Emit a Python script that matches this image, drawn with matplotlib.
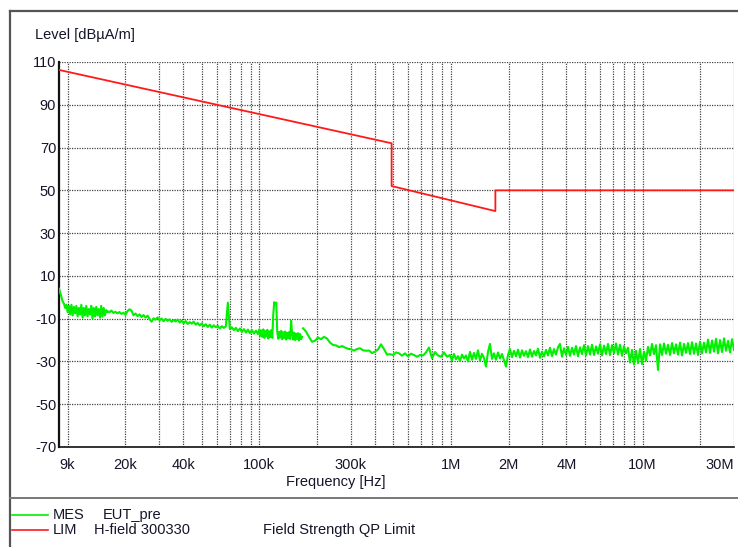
import numpy as np
import matplotlib
matplotlib.use('Agg')
import matplotlib.pyplot as plt
from matplotlib.lines import Line2D

plt.rcParams['font.family'] = ['Liberation Sans', 'DejaVu Sans']

W, H = 738, 547

# ---------------- data ----------------
# Limit line (H-field 300330, Field Strength QP Limit)
lim_freq = [9e3, 490e3, 490e3, 1.705e6, 1.705e6, 30e6]
lim_level = [106.3, 72.0, 52.0, 40.3, 50.0, 50.0]

seg_a_range = (9e3, 16.1e3)
seg_a = [4, 2, 0, -2, -3, -5, -3.5, -7, -4, -8, -3.5, -8.5, -4.5, -7.5, -4, -9,
         -5, -8, -3.5, -9.5, -5, -8.5, -4, -9, -5.5, -8, -4, -10, -5, -9, -4.5,
         -8.5, -5.5, -9.5, -4, -9, -5, -8.5, -6, -7]

seg_b_range = (16.1e3, 98.3e3)
seg_b = [-6.5, -7, -6.2, -7.3, -6.8, -7.5, -6.9, -7.8, -7.2, -8.2, -6.5, -5.6,
         -6.2, -8.4, -7.6, -8.8, -8.0, -9.2, -8.3, -9.5, -8.6, -10.2, -11.4, -9.8,
         -10.5, -9.4, -10.8, -9.9, -11.2, -10.1, -11.0, -10.3, -11.5, -10.6, -11.3,
         -10.4, -11.8, -10.9, -12.2, -11.1, -12.5, -11.6, -12.3, -11.4, -12.8, -12.0,
         -13.2, -12.2, -13.5, -12.6, -13.9, -12.8, -14.2, -13.1, -14.0, -13.3, -14.6,
         -13.5, -14.3, -13.6, -2.5, -14.8, -14.0, -15.4, -14.3, -15.8, -14.6, -16.2,
         -14.9, -16.5, -15.1, -16.8, -15.3, -17.0, -15.6, -17.2]

seg_c_range = (100e3, 167e3)
seg_c = [-15, -18, -15.5, -18.5, -15, -19, -15.8, -18.2, -15.2, -19.3, -16, -18.6,
         -15.4, -19, -8, -2.3, -3, -2.5, -16, -19.4, -16.2, -18.8, -15.7, -19.6,
         -16.4, -19, -16, -19.8, -16.6, -19.2, -16.2, -19.5, -11, -17, -19.8, -16.5,
         -20, -17, -19.5, -16.8, -20.2, -17.2, -19.6, -18.5]

seg_d1_range = (169e3, 988e3)
seg_d1 = [-14.5, -16.0, -18.6, -20.8, -20.3, -18.8, -19.6, -18.5, -19.3, -21.2,
          -22.3, -22.5, -23.3, -22.8, -23.5, -24.1, -24.3, -24.9, -24.2, -23.8,
          -24.8, -25.0, -24.9, -26.1, -25.4, -24.4, -22.0, -24.2, -26.8, -26.6,
          -27.0, -25.8, -26.2, -27.3, -26.2, -27.6, -26.4, -27.0, -27.8, -27.0,
          -27.2, -25.8, -23.5, -28.5, -25.6, -27.2, -27.8, -25.8, -27.8, -27.0]

seg_d2_range = (988e3, 30e6)
seg_d2 = [-27, -29.5, -26.5, -29, -27.5, -29.8, -26.8, -28.6, -27.2, -30,
          -25.5, -29.2, -26, -28.8, -24.8, -29.6, -26.4, -28.4, -32.4, -25.6,
          -21.8, -28.8, -26.2, -29.2, -25.8, -28.6, -26.5, -29.4, -32.4, -27,
          -24.2, -28, -25, -27.6, -24.5, -28.2, -24.8, -27.4, -25.2, -28,
          -24.4, -27.8, -25.1, -27.2, -24, -28.3, -25.4, -27.6, -24.6, -27.2,
          -23.6, -27.5, -24.2, -26.8, -23.4, -21.8, -27.8, -23.8, -27, -23.2,
          -27.4, -23.6, -26.8, -22.8, -27.6, -23.4, -26.6, -22.4, -27.2, -22.8,
          -26.8, -22.2, -27, -23, -26.4, -22, -27.2, -22.6, -26.6, -21.8,
          -27, -22.4, -26.2, -21.6, -26.8, -22.2, -27.4, -22.8, -26.2, -23.6,
          -30.5, -24.6, -31.5, -25, -30.8, -24.2, -31.2, -25.4, -29.6, -23.2,
          -27.2, -21.8, -26.6, -22.4, -34, -22, -27, -21.6, -26.4, -22.2,
          -27, -21.4, -26.2, -22, -26.8, -21.2, -27.2, -21.8, -26, -21.4,
          -26.6, -21, -26.4, -21.6, -27, -20.8, -26.2, -21.2, -25.8, -19.8,
          -26, -20.2, -25.4, -19.4, -26.2, -20, -25.6, -19.2, -25, -20.4,
          -25.8, -19.6, -24.6]

y_ticks = [110, 90, 70, 50, 30, 10, -10, -30, -50, -70]
x_ticks = [9e3, 20e3, 40e3, 100e3, 300e3, 1e6, 2e6, 4e6, 10e6, 30e6]
x_tick_labels = ['9k', '20k', '40k', '100k', '300k', '1M', '2M', '4M', '10M', '30M']

# ---------------- build the trace ----------------
def seg(rng, vals):
    return np.geomspace(rng[0], rng[1], len(vals)), np.array(vals, float)

fa, la = seg(seg_a_range, seg_a)
fb, lb = seg(seg_b_range, seg_b)
fc, lc = seg(seg_c_range, seg_c)
fd1, ld1 = seg(seg_d1_range, seg_d1)
fd2, ld2 = seg(seg_d2_range, seg_d2)
mes_f = np.concatenate([fa, fb, fc, [168e3], fd1, fd2])
mes_l = np.concatenate([la, lb, lc, [np.nan], ld1, ld2])

# ---------------- figure ----------------
fig = plt.figure(figsize=(W / 100, H / 100), dpi=100)
fig.patch.set_facecolor('white')

def fx(px):
    return px / W

def fy(py):
    return 1 - py / H

ax = fig.add_axes([fx(59), fy(447), fx(734) - fx(59), fy(62) - fy(447)])
ax.set_xscale('log')
ax.set_xlim(9e3, 30e6)
ax.set_ylim(-70, 110)

txt_col = '#15152a'

ax.set_yticks(y_ticks)
ax.set_yticklabels([str(v) for v in y_ticks], fontsize=10.5, color=txt_col)
ax.set_xticks(x_ticks)
ax.set_xticklabels(x_tick_labels, fontsize=10.5, color=txt_col)
ax.xaxis.set_minor_locator(plt.NullLocator())
ax.tick_params(axis='both', length=0)
ax.tick_params(axis='y', pad=2)
ax.tick_params(axis='x', pad=8)
labels = ax.get_xticklabels()
labels[0].set_horizontalalignment('left')
labels[-1].set_horizontalalignment('right')

# grid
grid_kw = dict(color='#444444', linestyle=(0, (1, 1)), linewidth=0.9, zorder=1)
for v in y_ticks:
    ax.axhline(v, **grid_kw)
vgrid = []
for dec in [1e4, 1e5, 1e6]:
    for m in range(1, 10):
        vgrid.append(dec * m)
vgrid += [1e7, 2e7, 3e7]
for v in vgrid:
    ax.axvline(v, **grid_kw)

for s in ['top', 'right']:
    ax.spines[s].set_visible(False)
ax.spines['left'].set_linewidth(1.6)
ax.spines['bottom'].set_linewidth(1.2)
ax.spines['left'].set_color('#111111')
ax.spines['bottom'].set_color('#111111')

# data
ax.plot(mes_f, mes_l, color='#00f000', linewidth=1.5, zorder=3)
ax.plot(lim_freq, lim_level, color='#ff1a1a', linewidth=1.3, zorder=4)

# axis titles
fig.text(fx(35), fy(35), 'Level [dBµA/m]', fontsize=10.5, color=txt_col,
         ha='left', va='center')
fig.text(fx(336), fy(482), 'Frequency [Hz]', fontsize=10.5, color=txt_col,
         ha='center', va='center')

# frame and separator
frame_col = '#555555'
fig.add_artist(Line2D([fx(10), fx(738)], [fy(11), fy(11)], color=frame_col, lw=1.6))
fig.add_artist(Line2D([fx(10), fx(10)], [fy(11), fy(547)], color=frame_col, lw=1.6))
fig.add_artist(Line2D([fx(10), fx(738)], [fy(497.5), fy(497.5)], color='#777777', lw=1.4))

# legend
fig.add_artist(Line2D([fx(12), fx(48)], [fy(515), fy(515)], color='#00f000', lw=1.2))
fig.add_artist(Line2D([fx(12), fx(48)], [fy(530), fy(530)], color='#ff1a1a', lw=1.2))
fig.text(fx(53), fy(515), 'MES', fontsize=10.5, color=txt_col, ha='left', va='center')
fig.text(fx(103), fy(515), 'EUT_pre', fontsize=10.5, color=txt_col, ha='left', va='center')
fig.text(fx(53), fy(530), 'LIM', fontsize=10.5, color=txt_col, ha='left', va='center')
fig.text(fx(94), fy(530), 'H-field 300330', fontsize=10.5, color=txt_col, ha='left', va='center')
fig.text(fx(263), fy(530), 'Field Strength QP Limit', fontsize=10.5, color=txt_col,
         ha='left', va='center')

fig.savefig('out.png', dpi=100, facecolor='white')
